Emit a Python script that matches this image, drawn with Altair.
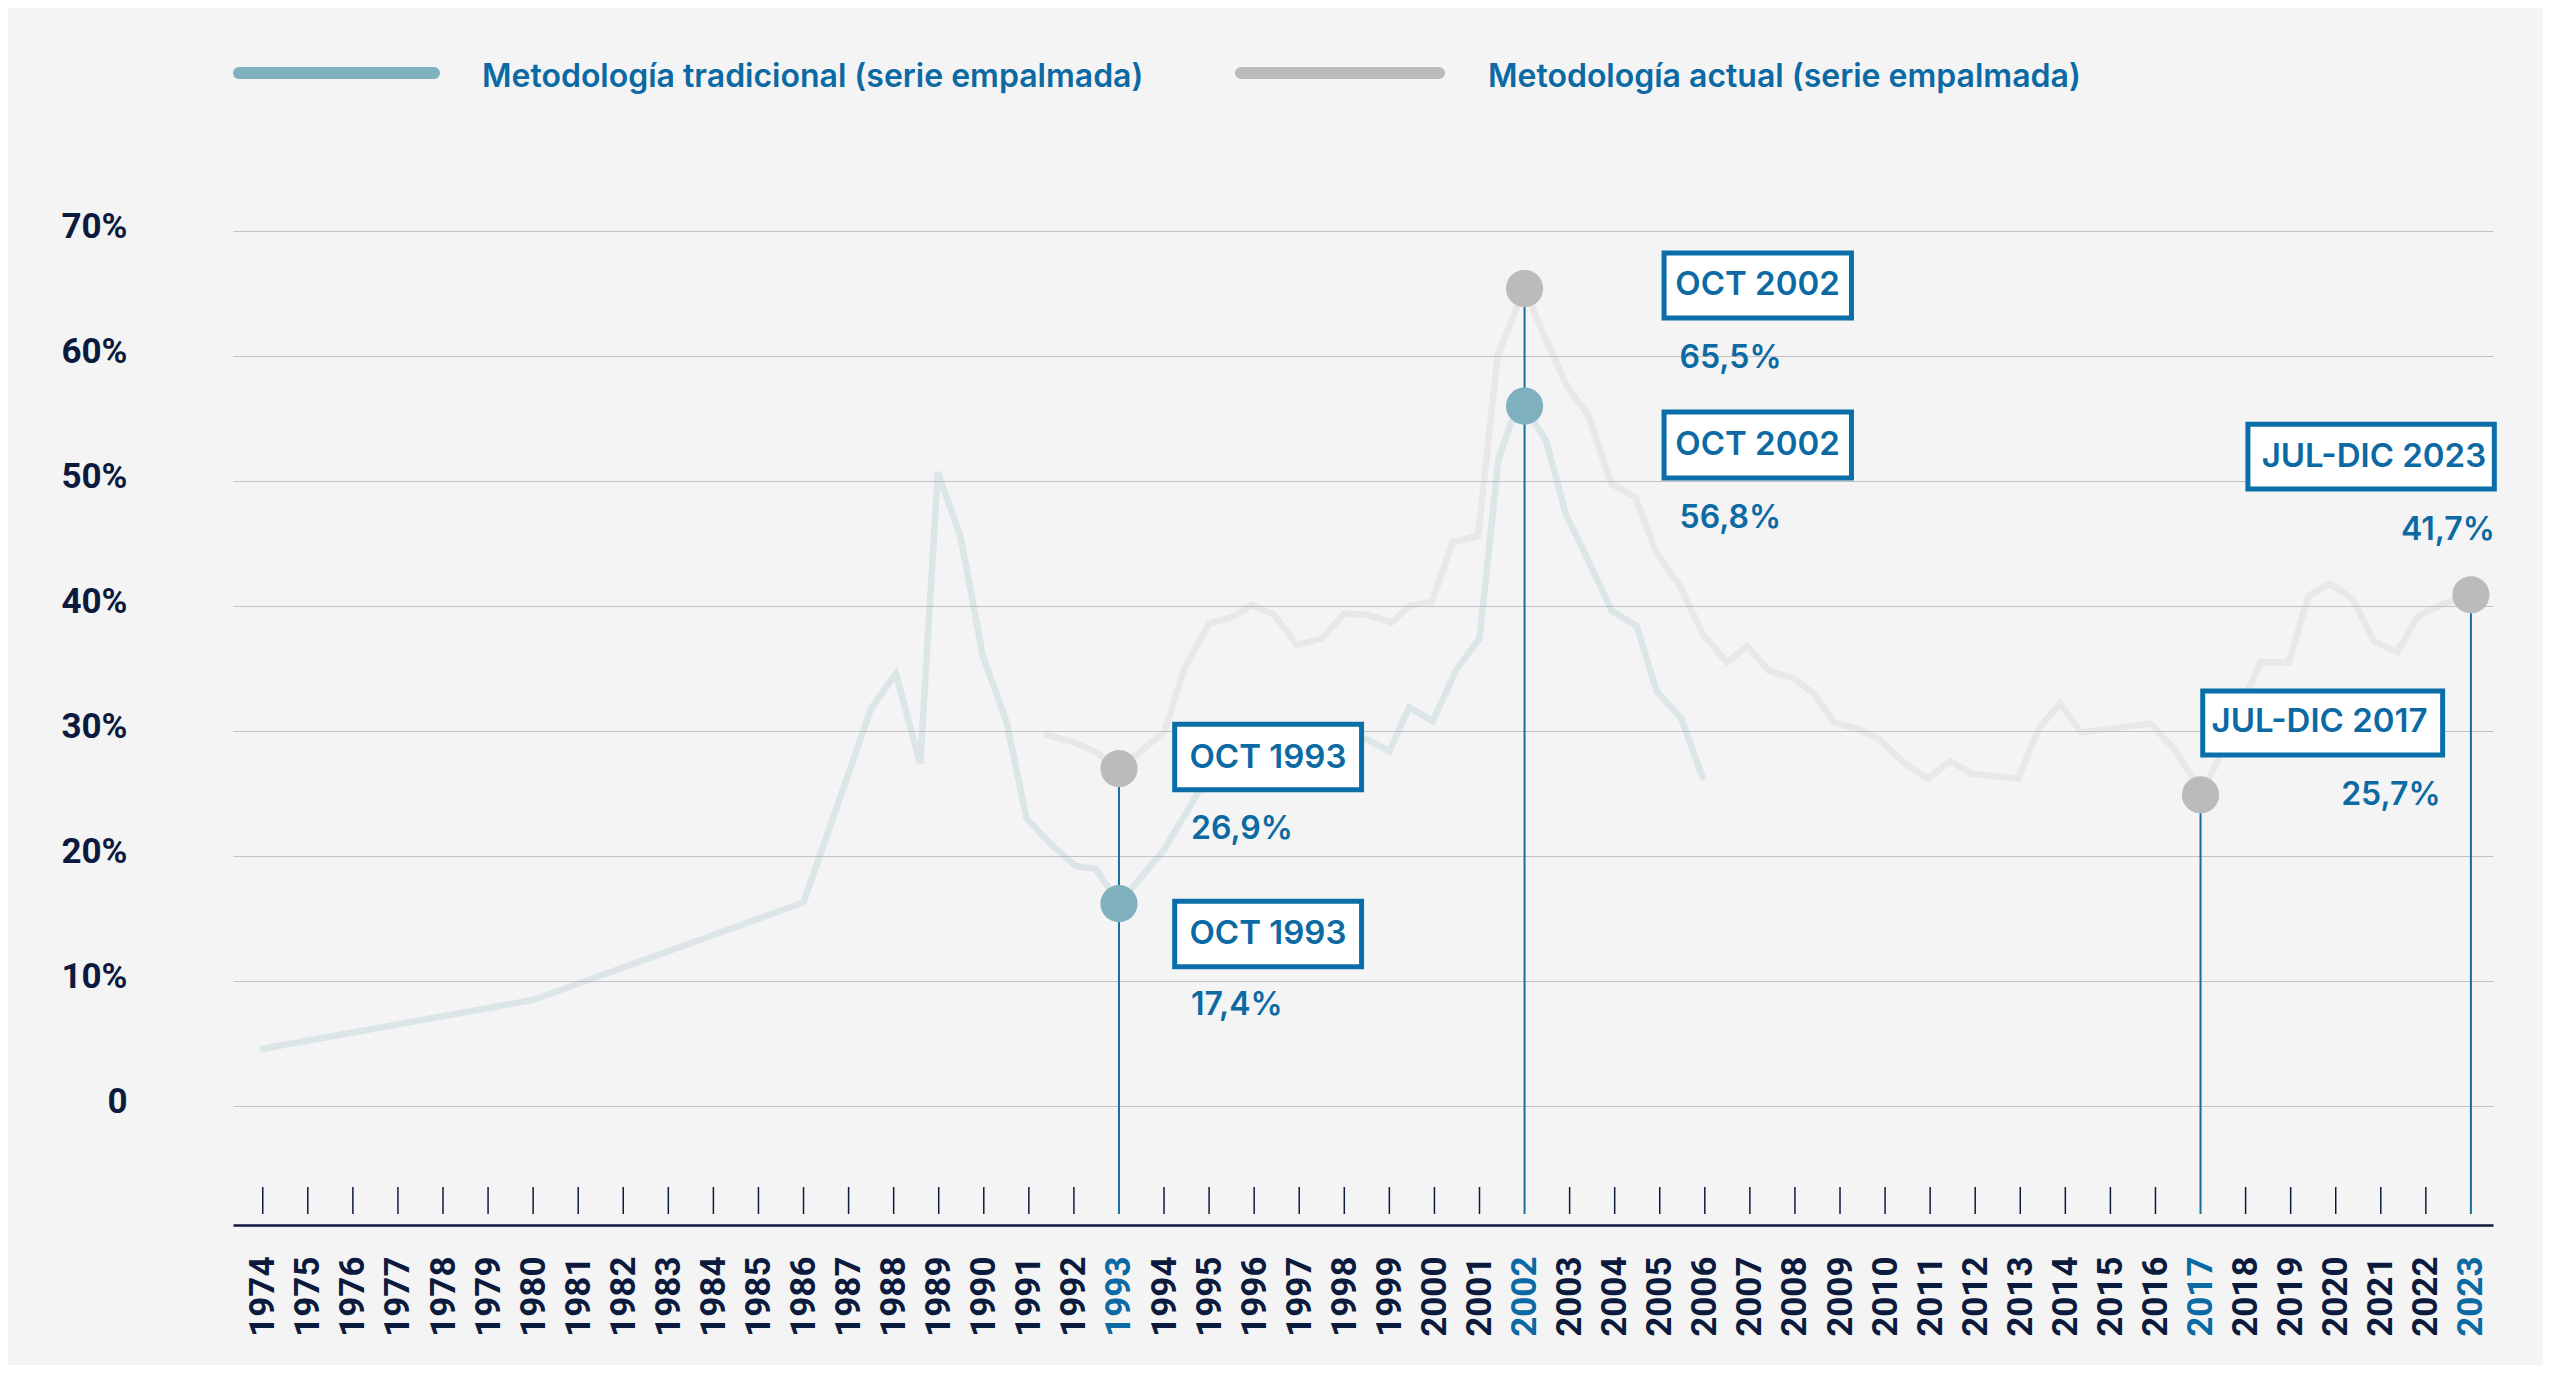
import altair as alt
import pandas as pd

# ---------------- data ----------------
series_names = ["Metodología tradicional (serie empalmada)", "Metodología actual (serie empalmada)"]

trad_year = [1974.0, 1980.0, 1986.0, 1987.5, 1988.05, 1988.59, 1988.98, 1989.48, 1989.98, 1990.5,
             1990.95, 1991.54, 1992.04, 1992.48, 1993.0, 1994.0, 1994.74, 1995.5, 1996.5, 1997.5,
             1998.48, 1999.0, 1999.44, 1999.96, 2000.5, 2001.0, 2001.42, 2001.69, 2002.0, 2002.48,
             2002.92, 2003.42, 2003.94, 2004.49, 2004.93, 2005.48, 2005.95]
trad_value = [4.6, 8.5, 16.3, 31.8, 34.6, 27.4, 50.7, 45.6, 36.0, 30.8,
              23.0, 20.8, 19.2, 19.0, 16.2, 20.5, 25.0, 27.0, 28.0, 28.8,
              29.4, 28.4, 31.9, 30.8, 35.0, 37.4, 51.7, 54.6, 56.0, 53.2,
              47.3, 43.6, 39.6, 38.4, 33.2, 31.0, 26.3]

act_year = [1991.4, 1992.0, 1992.5, 1993.0, 1994.0, 1994.45, 1995.0, 1995.5, 1995.95, 1996.45,
            1996.95, 1997.5, 1998.0, 1998.5, 1999.05, 1999.45, 1999.95, 2000.4, 2000.97, 2001.4,
            2002.0, 2002.38, 2002.93, 2003.42, 2003.92, 2004.46, 2004.91, 2005.45, 2005.95, 2006.49,
            2006.94, 2007.43, 2007.93, 2008.42, 2008.87, 2009.37, 2009.86, 2010.41, 2010.95, 2011.45,
            2011.92, 2012.95, 2013.41, 2013.88, 2014.35, 2015.89, 2016.41, 2016.85, 2017.0, 2017.35,
            2018.33, 2018.96, 2019.39, 2019.86, 2020.37, 2020.85, 2021.36, 2021.83, 2022.34, 2023.0]
act_value = [29.7, 29.1, 28.3, 27.0, 29.9, 35.0, 38.6, 39.1, 40.1, 39.3,
             36.9, 37.4, 39.4, 39.3, 38.7, 40.0, 40.4, 45.1, 45.6, 60.0,
             65.4, 62.1, 57.7, 55.2, 49.8, 48.7, 44.4, 41.6, 37.8, 35.5,
             36.8, 34.8, 34.3, 33.0, 30.7, 30.2, 29.4, 27.5, 26.2, 27.6,
             26.6, 26.2, 30.2, 32.2, 29.9, 30.6, 28.6, 26.1, 24.9, 27.4,
             35.5, 35.5, 40.8, 41.8, 40.6, 37.2, 36.3, 39.2, 40.1, 40.9]

tick_years = list(range(1974, 2024))
highlight_years = [1993, 2002, 2017, 2023]
y_ticks = [0, 10, 20, 30, 40, 50, 60, 70]

marker_series = [0, 1, 0, 1, 1, 1]
marker_year = [1993, 1993, 2002, 2002, 2017, 2023]
marker_value = [16.2, 27.0, 56.0, 65.4, 24.9, 40.9]
ann_label = ["OCT 1993", "OCT 1993", "OCT 2002", "OCT 2002", "JUL-DIC 2017", "JUL-DIC 2023"]
ann_text = ["17,4%", "26,9%", "56,8%", "65,5%", "25,7%", "41,7%"]

# ---------------- style ----------------
W, H = 2260, 994
BG = "#f4f4f4"
NAVY = "#0c1a3d"
BLUE = "#0b69a3"
BOX = "#0a6fa8"
RULE = "#1a6c9f"
COLORS = ["#7fb0be", "#bbbbbb"]
AX_FONT = "Roboto"
TX_FONT = "Inter"

# per-annotation layout (pixel offsets relative to marker): rect dx0, dx1, dy0, dy1,
# label dx, dy, value dx, dy, value align
layout = [
    (55.7, 242.6, -2.4, 63.1, 149, 30, 72, 101, "left"),
    (55.7, 242.6, -44.4, 21.2, 149, -11, 72, 60, "left"),
    (139.5, 326.9, 6, 72, 233, 39, 155, 112, "left"),
    (139.5, 326.9, -35.5, 29.6, 233, -4, 155, 69, "left"),
    (2.2, 242.1, -103.9, -40, 119, -73, 240, 0, "right"),
    (-223, 23.4, -170.5, -105.8, -97, -138, 24, -65, "right"),
]

# ---------------- tables ----------------
lines_df = pd.concat([
    pd.DataFrame({"series": series_names[0], "year": trad_year, "value": trad_value}),
    pd.DataFrame({"series": series_names[1], "year": act_year, "value": act_value}),
])
markers_df = pd.DataFrame({
    "series": [series_names[i] for i in marker_series],
    "year": marker_year, "value": marker_value,
    "label": ann_label, "text": ann_text,
})
rules_df = markers_df.groupby("year", as_index=False)["value"].max()
ticks_df = pd.DataFrame({"year": [y for y in tick_years if y not in highlight_years]})

xscale = alt.Scale(domain=[1973.34, 2023.49], nice=False, zero=False)
yscale = alt.Scale(domain=[-9.5, 70], nice=False, zero=False)
cscale = alt.Scale(domain=series_names, range=COLORS)

test = " || ".join(f"datum.value == {y}" for y in highlight_years)

x_axis = alt.Axis(
    values=tick_years, format="d", title=None, grid=False, ticks=False, tickSize=0,
    domain=True, domainColor=NAVY, domainWidth=2.5,
    labelAngle=270, labelAlign="right", labelBaseline="middle", labelPadding=31,
    labelFont=AX_FONT, labelFontSize=35, labelFontWeight="bold",
    labelColor=alt.condition(test, alt.value(BLUE), alt.value(NAVY)),
    labelOverlap=False, labelFlush=False, labelBound=False,
)
y_axis = alt.Axis(
    values=y_ticks, title=None, grid=True, gridColor="#c2c2c2", gridWidth=1.2,
    ticks=False, tickSize=0, domain=False,
    labelExpr="datum.value == 0 ? '0' : datum.value + '%'",
    labelFont=AX_FONT, labelFontSize=35, labelFontWeight="bold", labelColor=NAVY,
    labelPadding=106, labelOffset=-5, labelBaseline="middle",
)

X = alt.X("year:Q", scale=xscale, axis=x_axis)
Y = alt.Y("value:Q", scale=yscale, axis=y_axis)

lines = alt.Chart(lines_df).mark_line(strokeWidth=6.5, opacity=0.2, strokeCap="round").encode(
    x=X, y=Y,
    color=alt.Color("series:N", scale=cscale, legend=None),
    detail="series:N",
    order="year:Q",
)

ticks = alt.Chart(ticks_df).mark_rule(color=NAVY, strokeWidth=1.5).encode(
    x=X, y=alt.value(H - 38), y2=alt.value(H - 11),
)

rules = alt.Chart(rules_df).mark_rule(color=RULE, strokeWidth=2).encode(
    x=X, y=Y, y2=alt.value(H - 11),
)

markers = alt.Chart(markers_df).mark_circle(size=1385, opacity=1).encode(
    x=X, y=Y,
    color=alt.Color("series:N", scale=cscale, legend=None),
)

layers = [lines, ticks, rules, markers]

for i, (dx0, dx1, dy0, dy1, ldx, ldy, vdx, vdy, valign) in enumerate(layout):
    row = markers_df.iloc[[i]]
    base = alt.Chart(row)
    box = base.mark_rect(
        fill="white", stroke=BOX, strokeWidth=5,
        xOffset=dx0, x2Offset=dx1, yOffset=dy0, y2Offset=dy1,
    ).encode(x=X, x2="year:Q", y=Y, y2="value:Q")
    lab = base.mark_text(
        font=TX_FONT, fontSize=33, fontWeight=600, color=BLUE,
        align="center", baseline="middle", dx=ldx, dy=ldy,
    ).encode(x=X, y=Y, text="label:N")
    val = base.mark_text(
        font=TX_FONT, fontSize=32, fontWeight=600, color=BLUE,
        align=valign, baseline="middle", dx=vdx, dy=vdy,
    ).encode(x=X, y=Y, text="text:N")
    layers += [box, lab, val]

# legend (custom)
legend_pos = [(6, 201, 249), (1008, 1206, 1255)]
for i, (lx0, lx1, tx) in enumerate(legend_pos):
    ldf = pd.DataFrame({"series": [series_names[i]]})
    sw = alt.Chart(ldf).mark_rule(strokeWidth=12, strokeCap="round").encode(
        x=alt.value(lx0), x2=alt.value(lx1), y=alt.value(-158),
        color=alt.Color("series:N", scale=cscale, legend=None),
    )
    tt = alt.Chart(ldf).mark_text(
        font=TX_FONT, fontSize=32, fontWeight=600, color=BLUE,
        align="left", baseline="middle",
    ).encode(x=alt.value(tx), y=alt.value(-154), text="series:N")
    layers += [sw, tt]

chart = alt.layer(*layers).properties(
    width=W, height=H,
    autosize=alt.AutoSizeParams(type="none"),
    padding={"left": 225, "top": 223, "right": 50, "bottom": 140},
).configure(background=BG).configure_view(stroke=None)

chart.save("out.html", embed_options={"renderer": "svg", "actions": False})
